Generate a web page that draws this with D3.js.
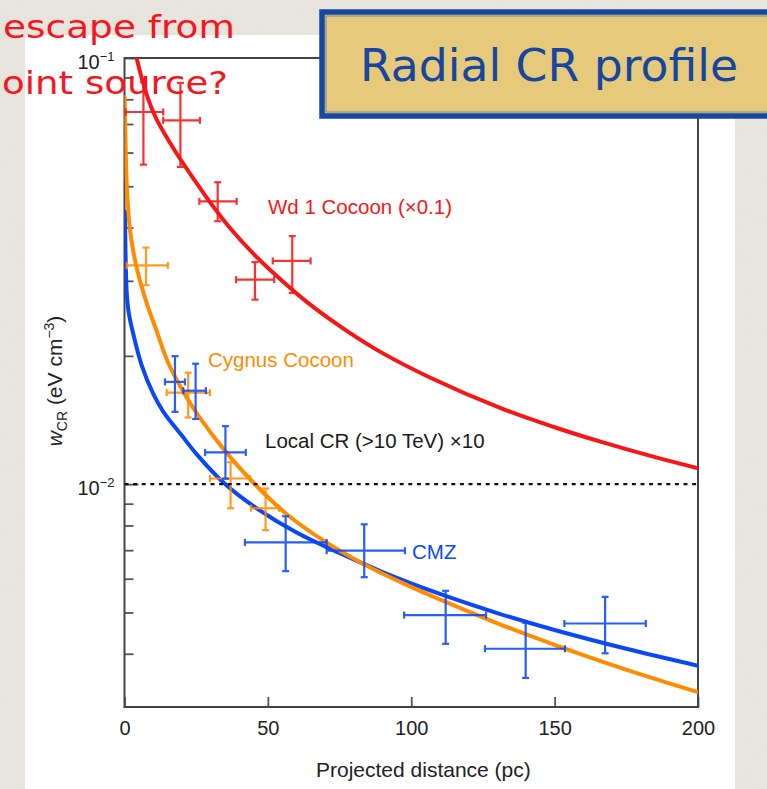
<!DOCTYPE html>
<html><head><meta charset="utf-8">
<script src="https://cdn.jsdelivr.net/npm/d3@7"></script>
<style>html,body{margin:0;padding:0;background:#e9e6e0;} svg{display:block}</style>
</head><body>
<svg id="chart" width="767" height="789"></svg>
<script>
// ---------- data ----------
const xTickValues = [0, 50, 100, 150, 200];
const yMajorTicks = [0.1, 0.01];
const yMajorExp = ["\u22121", "\u22122"];
const yMinorTicks = [0.004, 0.005, 0.006, 0.007, 0.008, 0.009, 0.02, 0.03, 0.04, 0.05, 0.06, 0.07, 0.08, 0.09];
const localCR = 0.01;

// model curves
const wd1CurveX = [3.3, 4.25, 8.3, 11.2, 18.2, 25.2, 29.8, 36.8, 45, 53.1, 65, 77.5, 90, 106.5, 131, 150, 166, 185, 200];
const wd1CurveY = [0.108, 0.0998, 0.0800, 0.0718, 0.0597, 0.0508, 0.0459, 0.0399, 0.0347, 0.0308, 0.0263, 0.0229, 0.0203, 0.0178, 0.0151, 0.0136, 0.01258, 0.01157, 0.0109];
const cygCurveX = [0.05, 0.35, 0.77, 1.92, 4.25, 7.74, 11.2, 15.2, 21.4, 26.3, 34.5, 44.9, 56.6, 69.3, 83.3, 96.1, 111.8, 130.9, 150.7, 165.8, 183.3, 200];
const cygCurveY = [0.081, 0.0643, 0.0509, 0.0395, 0.0322, 0.0266, 0.0229, 0.0193, 0.0161, 0.0143, 0.0121, 0.01009, 0.0085, 0.00738, 0.0065, 0.0059, 0.0053, 0.00469, 0.00418, 0.00385, 0.00352, 0.00325];
const cmzCurveX = [0.17, 0.77, 1.5, 3.07, 6, 10, 13.5, 20, 25.2, 34.5, 45, 60, 75, 90, 110, 130, 150, 175, 200];
const cmzCurveY = [0.0436, 0.0282, 0.0252, 0.0225, 0.0190, 0.0163, 0.0148, 0.0130, 0.01175, 0.01009, 0.00888, 0.0077, 0.006893, 0.00622, 0.005527, 0.004984, 0.004548, 0.004109, 0.00375];

// measurements: [x, xLow, xHigh, w, wLow, wHigh]
const wd1Points = [
  [6.6, 0.4, 13.5, 0.0747, 0.0562, 0.0879],
  [19.5, 13.5, 26.3, 0.0714, 0.0555, 0.0874],
  [32.5, 26.1, 39.1, 0.0461, 0.0414, 0.0511],
  [45.5, 38.9, 52.2, 0.0302, 0.0271, 0.0332],
  [58.5, 51.7, 64.9, 0.0334, 0.0281, 0.0382]
];
const cygPoints = [
  [7.5, 0.8, 15.1, 0.0326, 0.0293, 0.0359],
  [22.2, 14.7, 29.8, 0.0164, 0.01434, 0.01826],
  [37.0, 29.8, 43.8, 0.01031, 0.00878, 0.01126],
  [49.2, 44.1, 53.9, 0.00878, 0.0078, 0.00977]
];
const cmzPoints = [
  [17.6, 14.1, 21.1, 0.01738, 0.01478, 0.01997],
  [24.8, 20.5, 28.4, 0.01657, 0.01422, 0.01917],
  [35.2, 28.1, 42.3, 0.01187, 0.0103, 0.01368],
  [56.2, 42.0, 70.5, 0.0073, 0.00625, 0.00841],
  [83.6, 70.5, 97.8, 0.00698, 0.00605, 0.00805],
  [112.0, 97.5, 126.1, 0.00493, 0.00422, 0.00562],
  [139.9, 125.7, 153.6, 0.00411, 0.00351, 0.00473],
  [167.6, 153.4, 181.8, 0.00471, 0.00401, 0.00544]
];

// ---------- drawing ----------
const RED = "#f71616", ORANGE = "#ff8c00", BLUE = "#0a48f5";
const FONT = "'Liberation Sans', Arial, Helvetica, sans-serif";
const HAND = "'DejaVu Sans', 'Noto Sans', sans-serif";
const X0 = 124.5, X1 = 698, Y0 = 58, Y1 = 707;

const svg = d3.select("#chart");
const defs = svg.append("defs");
defs.append("clipPath").attr("id", "plotclip")
  .append("rect").attr("x", X0).attr("y", Y0).attr("width", X1 - X0).attr("height", Y1 - Y0);
const f = defs.append("filter").attr("id", "paper").attr("x", 0).attr("y", 0).attr("width", "100%").attr("height", "100%");
f.append("feTurbulence").attr("type", "fractalNoise").attr("baseFrequency", 0.9).attr("numOctaves", 2).attr("seed", 3);
f.append("feColorMatrix").attr("type", "matrix")
  .attr("values", "0 0 0 0 0.55  0 0 0 0 0.52  0 0 0 0 0.48  0 0 0 0.09 0");

// background paper
svg.append("rect").attr("width", 767).attr("height", 789).attr("fill", "#e9e6e0");
svg.append("rect").attr("width", 767).attr("height", 789).attr("filter", "url(#paper)");
// white card
svg.append("rect").attr("x", 25).attr("y", 35).attr("width", 710).attr("height", 760).attr("fill", "#ffffff");

const x = d3.scaleLinear().domain([0, 200]).range([X0, X1]);
const y = d3.scaleLog().domain([0.003, 0.1]).range([Y1, Y0]);

// y minor ticks
const gyMinor = svg.append("g").attr("transform", `translate(${X0},0)`)
  .call(d3.axisLeft(y).tickValues(yMinorTicks).tickSize(-9).tickFormat(""));
gyMinor.select(".domain").remove();
gyMinor.selectAll("line").attr("stroke", "#555").attr("stroke-width", 1.8);

// y major ticks + labels
const gyMajor = svg.append("g").attr("transform", `translate(${X0},0)`)
  .call(d3.axisLeft(y).tickValues(yMajorTicks).tickSize(-14).tickFormat(""));
gyMajor.select(".domain").remove();
gyMajor.selectAll("line").attr("stroke", "#555").attr("stroke-width", 1.8);
gyMajor.selectAll(".tick").each(function (d, i) {
  const t = d3.select(this).append("text")
    .attr("x", -10).attr("y", 10)
    .attr("text-anchor", "end").attr("fill", "#222")
    .style("font-family", FONT).style("font-size", "20px");
  t.append("tspan").text("10");
  t.append("tspan").attr("dy", -8).style("font-size", "13px").text(yMajorExp[i]);
});

// x axis
const gx = svg.append("g").attr("transform", `translate(0,${Y1})`)
  .call(d3.axisBottom(x).tickValues(xTickValues).tickSizeInner(-10).tickSizeOuter(0).tickPadding(14));
gx.select(".domain").remove();
gx.selectAll("line").attr("stroke", "#555").attr("stroke-width", 1.8);
gx.selectAll("text").attr("fill", "#222").style("font-family", FONT).style("font-size", "20px");

// frame
svg.append("rect").attr("x", X0).attr("y", Y0).attr("width", X1 - X0).attr("height", Y1 - Y0)
  .attr("fill", "none").attr("stroke", "#444").attr("stroke-width", 2);

// axis titles
svg.append("text").attr("x", 316).attr("y", 777).attr("fill", "#222")
  .style("font-family", FONT).style("font-size", "21px").text("Projected distance (pc)");
const yt = svg.append("text").attr("transform", "translate(62,381) rotate(-90)")
  .attr("text-anchor", "middle").attr("fill", "#222")
  .style("font-family", FONT).style("font-size", "21px");
yt.append("tspan").style("font-style", "italic").text("w");
yt.append("tspan").attr("dy", 5).style("font-size", "14px").text("CR");
yt.append("tspan").attr("dy", -5).text(" (eV cm");
yt.append("tspan").attr("dy", -8).style("font-size", "14px").text("\u22123");
yt.append("tspan").attr("dy", 8).text(")");

// curves
const plot = svg.append("g").attr("clip-path", "url(#plotclip)");
const line = d3.line().x(d => x(d[0])).y(d => y(d[1])).curve(d3.curveCatmullRom.alpha(0.5));
function drawCurve(xs, ys, color) {
  plot.append("path").datum(d3.zip(xs, ys)).attr("d", line)
    .attr("fill", "none").attr("stroke", color).attr("stroke-width", 4).attr("stroke-linecap", "round");
}
drawCurve(cmzCurveX, cmzCurveY, BLUE);
drawCurve(cygCurveX, cygCurveY, ORANGE);
drawCurve(wd1CurveX, wd1CurveY, RED);

// local CR reference line
svg.append("line").attr("x1", X0).attr("x2", X1).attr("y1", y(localCR)).attr("y2", y(localCR))
  .attr("stroke", "#111").attr("stroke-width", 2.4).attr("stroke-dasharray", "4,4.6");

// error bars
function drawPoints(pts, color) {
  const g = plot.append("g").attr("stroke", color).attr("stroke-width", 2.2).attr("opacity", 0.88);
  const cap = 3.5;
  pts.forEach(p => {
    const [px, xl, xh, pw, wl, wh] = p;
    g.append("line").attr("x1", x(xl)).attr("x2", x(xh)).attr("y1", y(pw)).attr("y2", y(pw));
    g.append("line").attr("x1", x(px)).attr("x2", x(px)).attr("y1", y(wl)).attr("y2", y(wh));
    g.append("line").attr("x1", x(xl)).attr("x2", x(xl)).attr("y1", y(pw) - cap).attr("y2", y(pw) + cap);
    g.append("line").attr("x1", x(xh)).attr("x2", x(xh)).attr("y1", y(pw) - cap).attr("y2", y(pw) + cap);
    g.append("line").attr("x1", x(px) - cap).attr("x2", x(px) + cap).attr("y1", y(wl)).attr("y2", y(wl));
    g.append("line").attr("x1", x(px) - cap).attr("x2", x(px) + cap).attr("y1", y(wh)).attr("y2", y(wh));
  });
}
drawPoints(cygPoints, ORANGE);
drawPoints(cmzPoints, BLUE);
drawPoints(wd1Points, RED);

// series labels
function label(txt, px, py, color) {
  svg.append("text").attr("x", px).attr("y", py).attr("fill", color)
    .style("font-family", FONT).style("font-size", "20.5px").text(txt);
}
label("Wd 1 Cocoon (\u00d70.1)", 268, 214, RED);
label("Cygnus Cocoon", 208, 367, ORANGE);
label("Local CR (>10 TeV) \u00d710", 265, 448, "#1a1a1a");
label("CMZ", 412, 559, BLUE);

// title box
svg.append("rect").attr("x", 322).attr("y", 12).attr("width", 470).attr("height", 104)
  .attr("fill", "#e6c97b").attr("stroke", "#1747a0").attr("stroke-width", 5.5);
svg.append("rect").attr("x", 326).attr("y", 16).attr("width", 470).attr("height", 96)
  .attr("fill", "none").attr("stroke", "#2a59b0").attr("stroke-width", 1).attr("opacity", 0.6);
svg.append("text").attr("x", 360).attr("y", 81).attr("fill", "#1546a0")
  .attr("textLength", 378).attr("lengthAdjust", "spacingAndGlyphs")
  .style("font-family", HAND).style("font-size", "44px").text("Radial CR profile");

// red annotation
const ann = svg.append("g").attr("fill", "#f5161e").style("font-family", HAND).style("font-size", "32px");
ann.append("text").attr("x", 3).attr("y", 38).attr("textLength", 232).attr("lengthAdjust", "spacingAndGlyphs").text("escape from");
ann.append("text").attr("x", 2).attr("y", 94).attr("textLength", 226).attr("lengthAdjust", "spacingAndGlyphs").text("oint source?");
</script>
</body></html>
